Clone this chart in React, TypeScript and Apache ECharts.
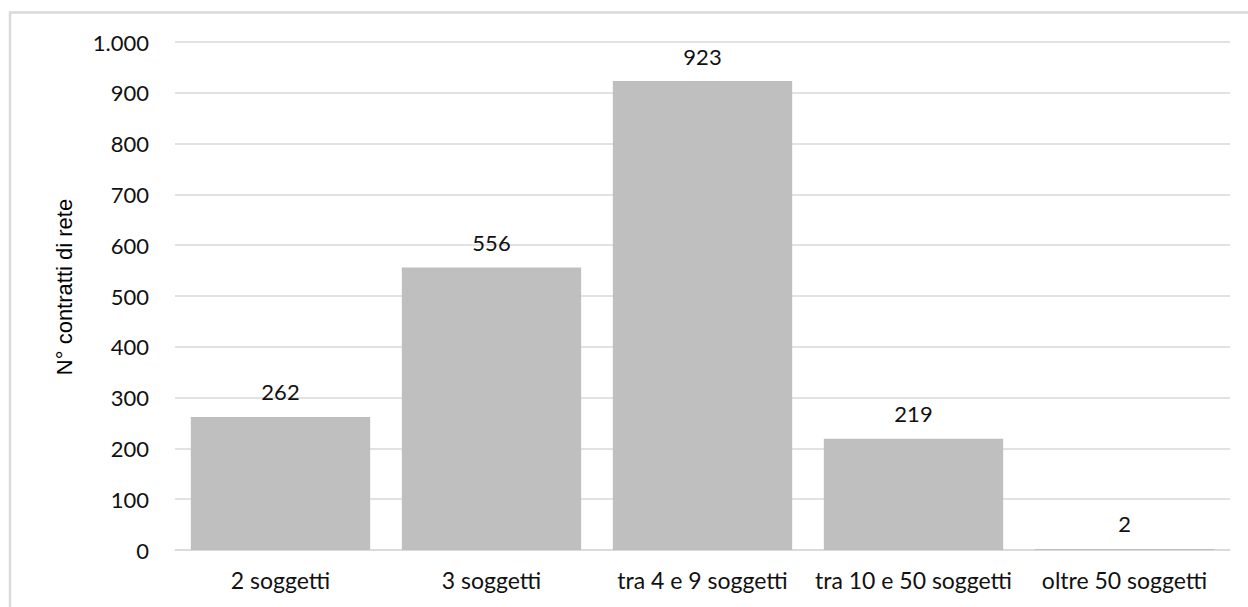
import React, { useEffect, useRef } from "react";
import * as echarts from "echarts";

const categories = [
  "2 soggetti",
  "3 soggetti",
  "tra 4 e 9 soggetti",
  "tra 10 e 50 soggetti",
  "oltre 50 soggetti",
];
const contratti = [262, 556, 923, 219, 2];
const yAxisTitle = "N° contratti di rete";

// Italian thousands separator: 1000 -> "1.000"
const fmtThousands = (v: number) =>
  String(v).replace(/\B(?=(\d{3})+(?!\d))/g, ".");

export default function App() {
  const ref = useRef<HTMLDivElement>(null);

  useEffect(() => {
    if (!ref.current) return;
    const chart = echarts.init(ref.current, undefined, { renderer: "svg" });
    const textFont = "Lato";
    chart.setOption({
      animation: false,
      backgroundColor: "#ffffff",
      graphic: [
        {
          type: "rect",
          shape: { x: 10, y: 12.5, width: 1260, height: 640 },
          style: { fill: "none", stroke: "#d9d9d9", lineWidth: 2.5 },
          silent: true,
          z: -1,
        },
      ],
      grid: { left: 175, right: 18, top: 42, bottom: 57 },
      xAxis: {
        type: "category",
        data: categories,
        axisLine: { show: true, lineStyle: { color: "#d9d9d9", width: 1.5 } },
        axisTick: { show: false },
        axisLabel: {
          color: "#111111",
          fontFamily: textFont,
          fontSize: 23,
          margin: 18,
          interval: 0,
        },
      },
      yAxis: {
        type: "value",
        min: 0,
        max: 1000,
        interval: 100,
        name: yAxisTitle,
        nameLocation: "middle",
        nameGap: 100,
        nameTextStyle: {
          color: "#000000",
          fontFamily: "Liberation Sans",
          fontSize: 22,
          padding: [0, 0, 0, 18],
        },
        axisLine: { show: false },
        axisTick: { show: false },
        splitLine: { lineStyle: { color: "#d9d9d9", width: 1.5 } },
        axisLabel: {
          color: "#111111",
          fontFamily: textFont,
          fontSize: 22,
          margin: 26,
          formatter: (v: number) => fmtThousands(v),
        },
      },
      series: [
        {
          type: "bar",
          data: contratti,
          barCategoryGap: "15%",
          itemStyle: { color: "#bfbfbf" },
          label: {
            show: true,
            position: "top",
            distance: 14,
            color: "#111111",
            fontFamily: textFont,
            fontSize: 22,
            formatter: (p: any) => fmtThousands(p.value),
          },
        },
      ],
    });
    return () => chart.dispose();
  }, []);

  return (
    <div
      ref={ref}
      style={{ position: "fixed", left: 0, top: 0, width: 1248, height: 607 }}
    />
  );
}
